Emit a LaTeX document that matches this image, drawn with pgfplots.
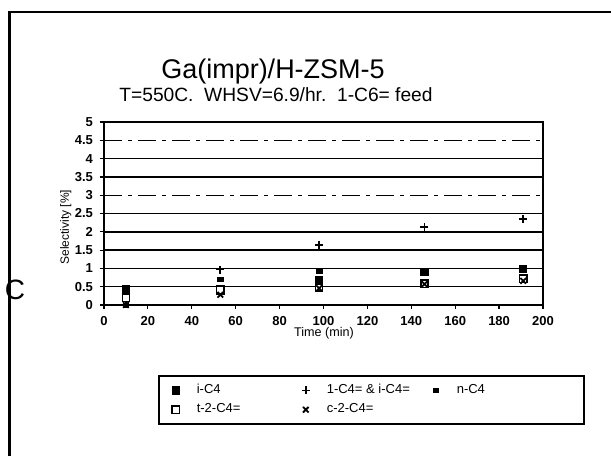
\documentclass[border=0pt]{standalone}
\usepackage{pgfplots}
\pgfplotsset{compat=1.18}
\usepackage{fontspec}
\setmainfont{Liberation Sans}

\begin{document}
\begin{tikzpicture}
\path[use as bounding box] (0,0) rectangle (305.5pt,228pt);
% edge of the scanned page
\draw[line width=1.4pt] (4.8pt,0) -- (4.8pt,222pt) -- (305.5pt,222pt);
\node[font=\fontsize{13.5}{15}\selectfont] at (136.5pt,192pt) {Ga(impr)/H-ZSM-5};
\node[font=\fontsize{9.6}{10}\selectfont] at (138pt,180.5pt) {T=550C.\ \ WHSV=6.9/hr.\ \ 1-C6= feed};
\node[font=\fontsize{14}{15}\selectfont] at (7.5pt,83pt) {C};

\begin{axis}[
    at={(52pt,75.5pt)}, anchor=south west,
    scale only axis,
    width=219.5pt, height=91.5pt,
    xmin=0, xmax=200, ymin=0, ymax=5,
    xtick={0,20,...,200},
    ytick={0,0.5,1,1.5,2,2.5,3.5,4,5},
    extra y ticks={3,4.5},
    extra y tick style={grid style={black, line width=0.55pt, dash pattern=on 9pt off 3pt on 2pt off 3pt}},
    ymajorgrids,
    grid style={black, line width=0.75pt},
    axis line style={black, line width=0.8pt},
    tick align=outside, xtick pos=left, ytick pos=left,
    major tick length=2pt,
    tick style={black, line width=0.6pt},
    tick label style={font=\fontsize{6.5}{7}\selectfont\bfseries},
    /pgf/number format/assume math mode=true,
    xlabel={Time (min)},
    ylabel={Selectivity [\%]},
    xlabel style={font=\fontsize{6.3}{7}\selectfont, at={(axis description cs:0.501,-0.153)}, anchor=center},
    ylabel style={font=\fontsize{6}{7}\selectfont, at={(axis description cs:-0.087,0.426)}, anchor=center},
    clip=false,
    legend columns=3,
    legend cell align=left,
    legend image code/.code={
        \path[draw=none, fill=none] (0pt,-2.5pt) rectangle (17pt,2.5pt);
        \draw[mark repeat=2,mark phase=2,#1] plot coordinates {(0pt,0pt)(8.5pt,0pt)(17pt,0pt)};
    },
    legend style={
        at={(axis description cs:0.123,-0.385)}, anchor=north west,
        draw=black, line width=0.8pt, fill=white,
        font=\fontsize{6.5}{7}\selectfont,
        inner xsep=0pt, inner ysep=3pt,
        row sep=1.5pt,
        nodes={inner ysep=1pt, inner xsep=2pt}
    }
]

% i-C4
\addplot[only marks, mark=square*, mark size=1.8pt, mark options={black, fill=black, line width=0.4pt}] coordinates {
    (10,0.45) (53,0.38) (98,0.68) (146,0.90) (191,0.98)
};
\addlegendentry{\makebox[44pt][l]{i-C4}}

% 1-C4= & i-C4=
\addplot[only marks, mark=+, mark size=2pt, mark options={black, line width=0.9pt}] coordinates {
    (10,0.17) (53,0.97) (98,1.64) (146,2.13) (191,2.35)
};
\addlegendentry{\makebox[44pt][l]{1-C4= \& i-C4=}}

% n-C4
\addplot[only marks, mark=square*, mark size=1.4pt, mark options={black, fill=black, yscale=0.7, line width=0.4pt}] coordinates {
    (10,0) (53,0.70) (98,0.92) (146,0.92) (191,0.76)
};
\addlegendentry{n-C4\hspace*{47.5pt}}

% t-2-C4=
\addplot[only marks, mark=square*, mark size=1.8pt, mark options={black, fill=white, line width=0.7pt}] coordinates {
    (10,0.20) (53,0.42) (98,0.48) (146,0.58) (191,0.72)
};
\addlegendentry{\makebox[44pt][l]{t-2-C4=}}

% c-2-C4=
\addplot[only marks, mark=x, mark size=2pt, mark options={black, line width=0.9pt}] coordinates {
    (10,0) (53,0.28) (98,0.46) (146,0.57) (191,0.66)
};
\addlegendentry{c-2-C4=}

\end{axis}
\end{tikzpicture}
\end{document}
